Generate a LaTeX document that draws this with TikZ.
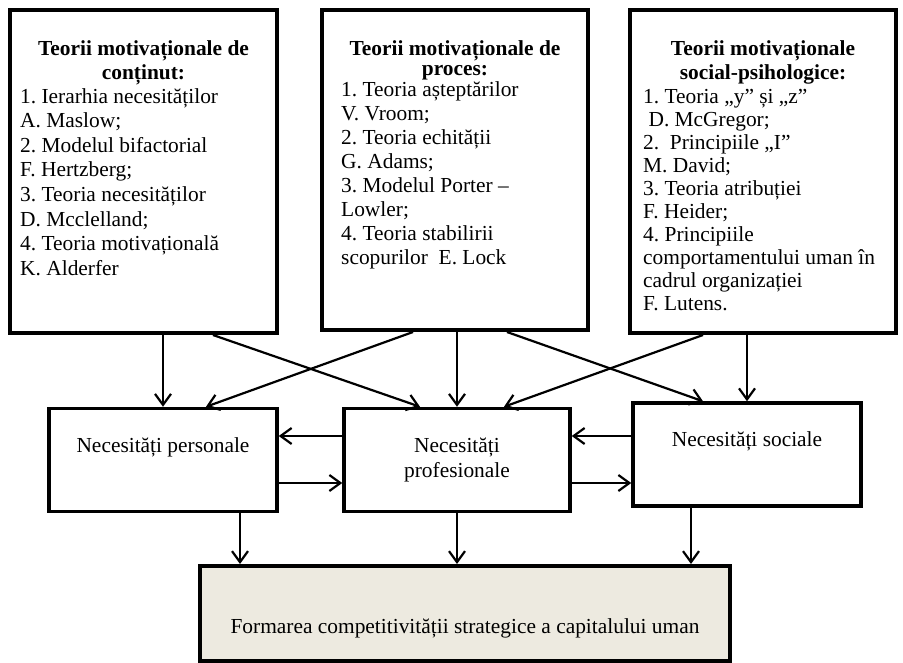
\documentclass[tikz,border=0pt]{standalone}
\usepackage{fontspec}
\setmainfont{Liberation Serif}
\usetikzlibrary{positioning}
\usetikzlibrary{arrows.meta}
\definecolor{fillbeige}{RGB}{237,234,224}
\frenchspacing
\tikzset{
        boxbase/.style={rectangle, draw=black, inner sep=0pt},
        % Theory boxes
        box_theory/.style={boxbase, line width=4pt, fill=white},
        % Need boxes
        box_need/.style={boxbase, line width=3.5pt, fill=white, minimum height=103pt},
        % Result box
        box_result/.style={boxbase, line width=4pt, fill=fillbeige},
        % Texts
        text_title/.style={inner sep=0pt, anchor=north, align=center, font=\fontsize{21.4}{24}\selectfont\bfseries},
        text_list/.style={inner sep=0pt, anchor=north west, align=left, font=\fontsize{21.4}{24.6}\selectfont},
        text_need/.style={inner sep=0pt, align=center, font=\fontsize{21.4}{25}\selectfont},
        % Connectors
        arrow_link/.style={-{Straight Barb[length=11pt,width=16pt]}, line width=2.2pt}
}
\begin{document}
\begin{tikzpicture}[x=1pt, y=-1pt]
            \useasboundingbox (0,0) rectangle (903,662);
            % top row
            \node[box_theory, minimum width=267pt, minimum height=323pt] (tc) at (143.5,171.5) {};
            \node[box_theory, minimum width=266pt, minimum height=320pt] (tp) at (455,170) {};
            \node[box_theory, minimum width=266pt, minimum height=323pt] (ts) at (763,171.5) {};
            \node[text_title] (tcTitle) at ([yshift=-32pt]tc.north) {Teorii motivaționale de\\ conținut:};
            \node[text_title, font=\fontsize{21.4}{20.5}\selectfont\bfseries] (tpTitle) at ([yshift=-32pt]tp.north) {Teorii motivaționale de\\ proces:};
            \node[text_title] (tsTitle) at ([yshift=-32pt]ts.north) {Teorii motivaționale\\ social-psihologice:};
            \node[text_list] (tcList) at ([xshift=12pt, yshift=-80pt]tc.north west) {%
                1. Ierarhia necesităților\\ A. Maslow;\\ 2. Modelul bifactorial\\ F. Hertzberg;\\
                3. Teoria necesităților\\ D. Mcclelland;\\ 4. Teoria motivațională\\ K. Alderfer};
            \node[text_list, font=\fontsize{21.4}{24}\selectfont] (tpList) at ([xshift=21pt, yshift=-73pt]tp.north west) {%
                1. Teoria așteptărilor\\ V. Vroom;\\ 2. Teoria echității\\ G.\ Adams;\\
                3. Modelul Porter --\\ Lowler;\\ 4. Teoria stabilirii\\ scopurilor\ \ E. Lock};
            \node[text_list, font=\fontsize{21.4}{23}\selectfont] (tsList) at ([xshift=15pt, yshift=-81pt]ts.north west) {%
                1. Teoria „y” și „z”\\ \hspace*{0.25em}D. McGregor;\\ 2.\ \ Principiile „I”\\ M. David;\\
                3. Teoria atribuției\\ F. Heider;\\ 4. Principiile\\ comportamentului uman în\\
                cadrul organizației\\ F. Lutens.};
            % middle row
            \node[box_need, minimum width=228pt] (np) at (163,460) {};
            \node[box_need, minimum width=226pt] (npr) at (457,460) {};
            \node[box_need, minimum width=228pt] (ns) at (747,454.5) {};
            \node[text_need] (npText) at ([yshift=13pt]np.center) {Necesități personale};
            \node[text_need] (nprText) at (npr.center) {Necesități\\ profesionale};
            \node[text_need] (nsText) at ([yshift=13.5pt]ns.center) {Necesități sociale};
            % bottom
            \node[box_result, minimum width=530pt, minimum height=95pt] (fc) at (465,613.5) {};
            \node[text_need] (fcText) at ([yshift=-14.5pt]fc.center) {Formarea competitivității strategice a capitalului uman};
            % theories -> needs
            \draw[arrow_link] (tc.south -| np.north) -- (np.north);
            \draw[arrow_link] ([xshift=69.5pt]tc.south) -- ([xshift=-37pt]npr.north);
            \draw[arrow_link] ([xshift=-42pt]tp.south) -- ([xshift=43pt]np.north);
            \draw[arrow_link] (tp.south -| npr.north) -- (npr.north);
            \draw[arrow_link] ([xshift=52pt]tp.south) -- ([xshift=-44pt]ns.north);
            \draw[arrow_link] ([xshift=-60pt]ts.south) -- ([xshift=47pt]npr.north);
            \draw[arrow_link] (ts.south -| ns.north) -- (ns.north);
            % between needs
            \draw[arrow_link] ([yshift=24pt]npr.west) -- ([yshift=24pt]npr.west -| np.east);
            \draw[arrow_link] ([yshift=-23pt]np.east) -- ([yshift=-23pt]np.east -| npr.west);
            \draw[arrow_link] ([yshift=18.5pt]ns.west) -- ([yshift=18.5pt]ns.west -| npr.east);
            \draw[arrow_link] ([yshift=-23pt]npr.east) -- ([yshift=-23pt]npr.east -| ns.west);
            % needs -> result
            \draw[arrow_link] ([xshift=77pt]np.south) -- ([xshift=77pt]np.south |- fc.north);
            \draw[arrow_link] (npr.south) -- (npr.south |- fc.north);
            \draw[arrow_link] ([xshift=-56pt]ns.south) -- ([xshift=-56pt]ns.south |- fc.north);
\end{tikzpicture}
\end{document}
